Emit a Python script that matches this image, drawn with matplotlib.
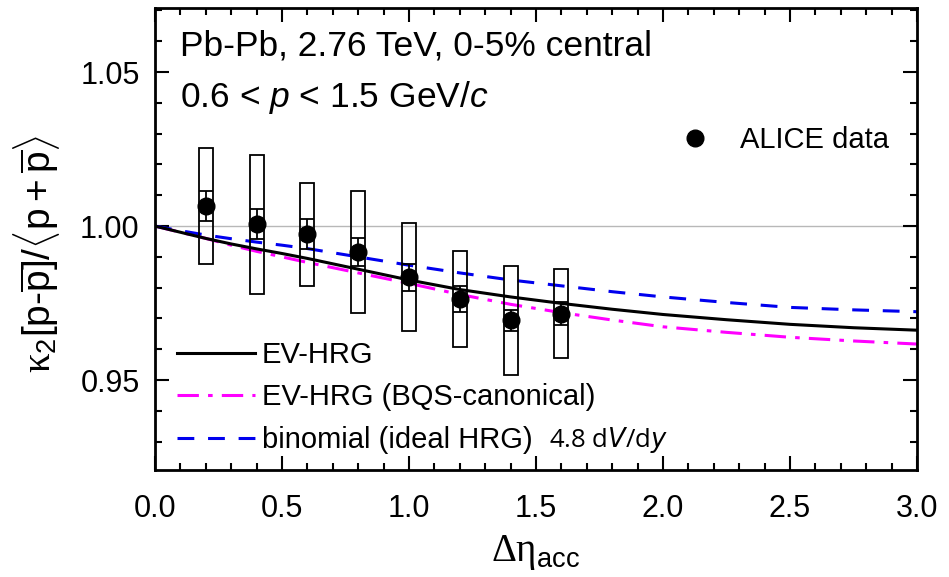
import matplotlib
matplotlib.use("Agg")
import matplotlib.pyplot as plt
from matplotlib.ticker import MultipleLocator, FormatStrFormatter
from matplotlib.lines import Line2D

plt.rcParams['font.family'] = ['Liberation Sans', 'DejaVu Sans']
plt.rcParams['mathtext.fontset'] = 'custom'
plt.rcParams['mathtext.rm'] = 'Liberation Sans'
plt.rcParams['mathtext.it'] = 'Liberation Sans:italic'
plt.rcParams['mathtext.bf'] = 'Liberation Sans:bold'
plt.rcParams['mathtext.cal'] = 'Liberation Serif'

# ---- data ----
eta_data = [0.2, 0.4, 0.6, 0.8, 1.0, 1.2, 1.4, 1.6]
k2_data = [1.0065, 1.0006, 0.9973, 0.9916, 0.9834, 0.9763, 0.9694, 0.9716]
stat_err = [0.0048, 0.0049, 0.0049, 0.0046, 0.0044, 0.0041, 0.0035, 0.0038]
sys_err = [0.0187, 0.0226, 0.0166, 0.0199, 0.0176, 0.0155, 0.0178, 0.0145]

eta_curve = [0.0, 0.1, 0.2, 0.3, 0.4, 0.5, 0.6, 0.8, 1.0, 1.2, 1.4, 1.6,
             1.8, 2.0, 2.25, 2.5, 2.75, 3.0]
ev_hrg = [1.0, 0.998, 0.996, 0.9942, 0.9926, 0.9911, 0.9895, 0.986, 0.9825,
          0.9794, 0.977, 0.9749, 0.973, 0.9713, 0.9696, 0.9681, 0.967, 0.9662]
ev_hrg_bqs = [1.0, 0.998, 0.996, 0.9938, 0.9918, 0.99, 0.9882, 0.9848, 0.9814,
              0.9778, 0.9746, 0.9719, 0.9695, 0.9673, 0.9655, 0.9639, 0.9627, 0.9617]
binomial = [1.0, 0.9985, 0.9971, 0.9959, 0.9948, 0.9938, 0.9927, 0.99, 0.9873,
            0.9848, 0.9825, 0.9806, 0.9787, 0.977, 0.9752, 0.9736, 0.9728, 0.9722]

fig = plt.figure(figsize=(9.49, 5.77), dpi=100)
ax = fig.add_axes([0.1633, 0.1854, 0.9663 - 0.1633, 0.9861 - 0.1854])

ax.axhline(1.0, color='#b8b8b8', lw=1.0, zorder=1)

l1, = ax.plot(eta_curve, ev_hrg, color='black', lw=2.2, zorder=3)
l2, = ax.plot(eta_curve, ev_hrg_bqs, color='#ff00ff', lw=2.2,
              dashes=(7, 3, 1.5, 3), zorder=2)
l3, = ax.plot(eta_curve, binomial, color='#0000ee', lw=2.2,
              dashes=(5.5, 4.5), zorder=2)

lo = [y - s for y, s in zip(k2_data, sys_err)]
ax.bar(eta_data, [2 * s for s in sys_err], bottom=lo, width=0.055,
       facecolor='none', edgecolor='black', lw=1.3, zorder=4)
ax.errorbar(eta_data, k2_data, yerr=stat_err, fmt='o', color='black',
            ms=12, capsize=5, elinewidth=1.3, capthick=1.3, zorder=5)

ax.set_xlim(0, 3.0)
ax.set_ylim(0.9208, 1.0708)
ax.xaxis.set_major_locator(MultipleLocator(0.5))
ax.xaxis.set_minor_locator(MultipleLocator(0.1))
ax.yaxis.set_major_locator(MultipleLocator(0.05))
ax.yaxis.set_minor_locator(MultipleLocator(0.01))
ax.xaxis.set_major_formatter(FormatStrFormatter('%.1f'))
ax.yaxis.set_major_formatter(FormatStrFormatter('%.2f'))
ax.tick_params(which='both', direction='in', top=True, right=True,
               labelsize=22, width=1.5)
ax.tick_params(which='major', length=10)
ax.tick_params(which='minor', length=5)
ax.tick_params(axis='x', which='major', pad=17)
ax.tick_params(axis='y', which='major', pad=11)
for s in ax.spines.values():
    s.set_linewidth(2)

ax.set_xlabel(r'$\mathcal{Δη}_{\mathrm{acc}}$', fontsize=28, labelpad=7)
ax.set_ylabel(r'$\mathcal{κ}_2[\mathrm{p}\text{-}\overline{\mathrm{p}}]/\langle\mathrm{p}+\overline{\mathrm{p}}\rangle$',
              fontsize=28)
ax.yaxis.set_label_coords(-0.122, 0.468)

ax.text(0.033, 0.918, 'Pb-Pb, 2.76 TeV, 0-5% central', transform=ax.transAxes,
        fontsize=25.5, va='center', ha='left')
ax.text(0.033, 0.806, r'0.6 < $p$ < 1.5 GeV/$c$', transform=ax.transAxes,
        fontsize=25.5, va='center', ha='left')

leg1 = ax.legend(handles=[Line2D([], [], ls='none', marker='o', color='black', ms=12)],
                 labels=['ALICE data'], loc='upper right',
                 bbox_to_anchor=(0.998, 0.802), frameon=False, fontsize=21,
                 handletextpad=0.8, handlelength=1.5)
ax.add_artist(leg1)
ax.legend(handles=[l1, l2, l3],
          labels=['EV-HRG', 'EV-HRG (BQS-canonical)', 'binomial (ideal HRG)'],
          loc='lower left', bbox_to_anchor=(0.008, 0.0), frameon=False,
          fontsize=21, handlelength=2.67, handletextpad=0.24,
          labelspacing=0.5, borderaxespad=0.15)

ax.text(0.517, 0.065, r'4.8 d$V$/d$y$', transform=ax.transAxes, fontsize=18.5,
        family=['Open Sans', 'DejaVu Sans'], va='center', ha='left',
        math_fontfamily='dejavusans')

fig.savefig('out.png', dpi=100)
